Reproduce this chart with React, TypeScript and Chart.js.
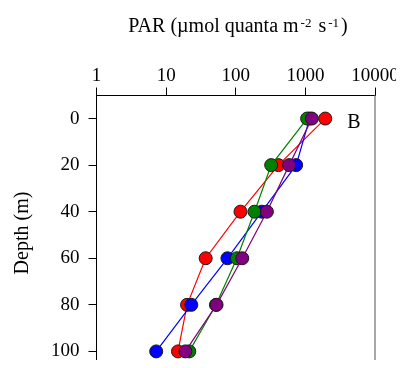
import React, { useEffect, useRef } from "react";
import { Chart, registerables } from "chart.js";

Chart.register(...registerables);

const depths = [0, 20, 40, 60, 80, 100];
const redPAR = [1930, 410, 117, 37, 20, 14.8];
const greenPAR = [1060, 323, 186, 104, 52, 21.5];
const bluePAR = [1150, 737, 237, 76, 23, 7.2];
const purplePAR = [1240, 585, 280, 124, 53, 18.9];
const xTicks = [1, 10, 100, 1000, 10000];
const yTicks = [0, 20, 40, 60, 80, 100];

const FONT = "'Liberation Serif', 'Times New Roman', serif";

const toPoints = (vals: number[]) => vals.map((v, i) => ({ x: v, y: depths[i] }));

const decorPlugin = {
  id: "decor",
  afterDraw(chart: any) {
    const { ctx, chartArea } = chart;
    ctx.save();
    // right border
    ctx.strokeStyle = "#8a8a8a";
    ctx.lineWidth = 1.5;
    ctx.beginPath();
    ctx.moveTo(chartArea.right, chartArea.top);
    ctx.lineTo(chartArea.right, chartArea.bottom);
    ctx.stroke();
    // panel label
    ctx.fillStyle = "#000";
    ctx.font = `20px ${FONT}`;
    ctx.textAlign = "center";
    ctx.textBaseline = "middle";
    ctx.fillText("B", 354, 123);
    // axis title with superscripts
    const main = `20px ${FONT}`;
    const sup = `13px ${FONT}`;
    const parts: [string, boolean][] = [
      ["PAR (\u00b5mol quanta m", false],
      ["-2", true],
      [" s", false],
      ["-1", true],
      [")", false],
    ];
    const gap = 2;
    let total = 0;
    for (const [t, s] of parts) {
      ctx.font = s ? sup : main;
      total += ctx.measureText(t).width + (s ? 2 * gap : 0);
    }
    let x = 238 - total / 2;
    const base = 32;
    ctx.textAlign = "left";
    ctx.textBaseline = "alphabetic";
    for (const [t, s] of parts) {
      ctx.font = s ? sup : main;
      if (s) x += gap;
      ctx.fillText(t, x, s ? base - 5 : base);
      x += ctx.measureText(t).width + (s ? gap : 0);
    }
    // y title
    ctx.translate(23, 233);
    ctx.rotate(-Math.PI / 2);
    ctx.font = `20px ${FONT}`;
    ctx.textAlign = "center";
    ctx.textBaseline = "middle";
    ctx.fillText("Depth (m)", 0, 0);
    ctx.restore();
  },
};

export default function App() {
  const ref = useRef<HTMLCanvasElement>(null);
  useEffect(() => {
    const mk = (label: string, vals: number[], color: string) => ({
      label,
      data: toPoints(vals),
      showLine: true,
      borderColor: color,
      borderWidth: 1.2,
      backgroundColor: color,
      pointBackgroundColor: color,
      pointBorderColor: "#1a1a1a",
      pointBorderWidth: 1,
      pointRadius: 6.5,
      pointHoverRadius: 6.5,
      tension: 0,
    });
    const chart = new Chart(ref.current!, {
      type: "scatter",
      data: {
        datasets: [
          mk("Purple", purplePAR, "#800080"),
          mk("Green", greenPAR, "#008000"),
          mk("Blue", bluePAR, "#0000ff"),
          mk("Red", redPAR, "#ff0000"),
        ],
      },
      options: {
        animation: false,
        responsive: false,
        devicePixelRatio: 1,
        layout: { padding: { left: 0, right: 29, top: 0, bottom: 0 } },
        plugins: { legend: { display: false }, tooltip: { enabled: false } },
        scales: {
          x: {
            type: "logarithmic",
            position: "top",
            min: 1,
            max: 10000,
            afterBuildTicks: (s: any) => {
              s.ticks = xTicks.map((v) => ({ value: v }));
            },
            afterFit: (s: any) => {
              s.height = 95.5;
              s.paddingLeft = 0;
              s.paddingRight = 0;
              s.paddingTop = 0;
              s.paddingBottom = 0;
            },
            ticks: {
              color: "#000",
              font: { family: FONT, size: 19 },
              padding: 0,
              maxRotation: 0,
              autoSkip: false,
              callback: (v: any) => String(v),
            },
            grid: { drawOnChartArea: false, tickLength: 8, color: "#000", lineWidth: 1 },
            border: { color: "#000", width: 1 },
          },
          y: {
            type: "linear",
            reverse: true,
            min: -9.9,
            max: 108.2,
            afterBuildTicks: (s: any) => {
              s.ticks = yTicks.map((v) => ({ value: v }));
            },
            afterFit: (s: any) => {
              s.width = 96.5;
              s.paddingLeft = 0;
              s.paddingRight = 0;
              s.paddingTop = 0;
              s.paddingBottom = 0;
            },
            ticks: {
              color: "#000",
              font: { family: FONT, size: 19 },
              padding: 9,
              autoSkip: false,
            },
            grid: { drawOnChartArea: false, tickLength: 8, color: "#000", lineWidth: 1 },
            border: { color: "#000", width: 1 },
          },
        },
      },
      plugins: [decorPlugin],
    } as any);
    return () => chart.destroy();
  }, []);
  return (
    <div style={{ width: 404, height: 368, margin: "-8px", overflow: "hidden", background: "#fff" }}>
      <canvas ref={ref} width={404} height={378} style={{ display: "block" }} />
    </div>
  );
}
